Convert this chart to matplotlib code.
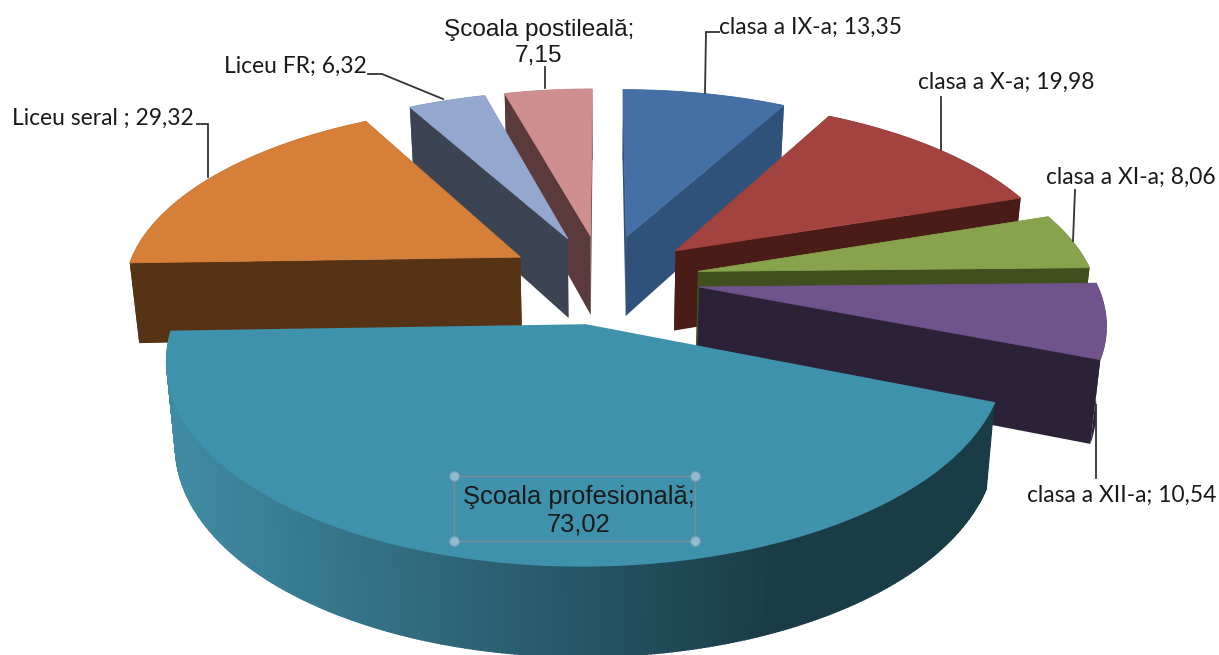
import numpy as np
import matplotlib
matplotlib.use('Agg')
import matplotlib.pyplot as plt
from matplotlib.colors import to_rgb

# data
categories = ['clasa a IX-a', 'clasa a X-a', 'clasa a XI-a', 'clasa a XII-a',
              'Şcoala profesională', 'Liceu seral ', 'Liceu FR', 'Şcoala postileală']
values = [13.35, 19.98, 8.06, 10.54, 73.02, 29.32, 6.32, 7.15]
value_labels = ['13,35', '19,98', '8,06', '10,54', '73,02', '29,32', '6,32', '7,15']

top_colors = ['#4570A5', '#A34340', '#87A34C', '#70538A', '#3F92AC', '#D57F39', '#94A8CF', '#CE8F8E']
side_colors = ['#30527A', '#4A1C18', '#3F4F1E', '#2C2238', '#1A3C47', '#573316', '#3C4454', '#5A3A3A']

# pie geometry, in pixels of the picture
CX, CY = 603, 279
RADIUS = 396
EXPLODE = 0.245
FLAT = 184
PERSP = 0.1635
DEPTH = 81


# project a point of the pie plane to the picture
def project(u, v, low=False):
    s = 1 / (1 - PERSP * v)
    x = u * RADIUS * s
    y = v * FLAT * s
    if low:
        x = x * 0.98
        y = y + DEPTH * (1 + 0.1 * v)
    return CX + x, CY + y


def slicePoints(a0, a1, low=False):
    mid = (a0 + a1) / 2
    du, dv = EXPLODE * np.sin(mid), -EXPLODE * np.cos(mid)
    t = np.linspace(a0, a1, max(int(np.degrees(a1 - a0)) * 2, 4))
    xs, ys = project(du + np.sin(t), dv - np.cos(t), low)
    ax_, ay_ = project(du, dv, low)
    return ax_, ay_, xs, ys


def drawSlice(ax, a0, a1, top, side, gradient=False):
    px, py, xs, ys = slicePoints(a0, a1)
    qx, qy, xl, yl = slicePoints(a0, a1, True)
    if not gradient:
        # one flat side colour: radial faces and outer wall in one go
        for i in (0, -1):
            ax.fill([px, xs[i], xl[i], qx], [py, ys[i], yl[i], qy], color=side, lw=0)
        ax.fill(np.r_[xs, xl[::-1]], np.r_[ys, yl[::-1]], color=side, lw=0)
        ax.fill(np.r_[px, xs], np.r_[py, ys], color=top, lw=0.6)
        return
    # outer wall in strips so that it can be shaded
    left = np.array(to_rgb('#3F8BA3'))
    right = np.array(to_rgb(side))
    for i in range(len(xs) - 1):
        f = np.clip((xs[i] - 175) / 600, 0, 1)
        ax.fill([xs[i], xs[i + 1], xl[i + 1], xl[i]], [ys[i], ys[i + 1], yl[i + 1], yl[i]],
                color=tuple(left + (right - left) * f), lw=1.2)
    ax.fill(np.r_[px, xs], np.r_[py, ys], color=top, lw=1.5)


def leader(ax, xs, ys):
    ax.plot(xs, ys, color='#333333', lw=1.3, solid_joinstyle='miter', zorder=5)


fig = plt.figure(figsize=(12.19, 6.55), dpi=100)
ax = fig.add_axes([0, 0, 1, 1])
ax.set_xlim(0, 1219)
ax.set_ylim(655, 0)
ax.axis('off')

edges = np.radians(np.r_[0, np.cumsum(values)] / np.sum(values) * 360)
# back slices first, the big front one last
for i in [7, 6, 5, 0, 1, 2, 3, 4]:
    drawSlice(ax, edges[i], edges[i + 1], top_colors[i], side_colors[i], gradient=(i == 4))

leader(ax, [719, 706, 705], [32, 32, 93])
leader(ax, [941, 941], [97, 150])
leader(ax, [1075, 1073], [190, 241])
leader(ax, [1096, 1096], [405, 478])
leader(ax, [197, 208, 208], [124, 124, 177])
leader(ax, [368, 382, 443], [74, 74, 99])
leader(ax, [545, 545], [67, 88])

small = dict(family='Lato', fontsize=16.4, color='#1a1a1a', va='center', zorder=6)
big = dict(family='Liberation Sans', ha='center', va='center', color='#1a1a1a',
           linespacing=1.2, zorder=6)


def label(i):
    return f'{categories[i]}; {value_labels[i]}'


ax.text(719, 27, label(0), ha='left', **small)
ax.text(918, 82, label(1), ha='left', **small)
ax.text(1046, 177, label(2), ha='left', **small)
ax.text(1027, 495, label(3), ha='left', **small)
ax.text(12, 118, label(5), ha='left', **small)
ax.text(224, 66, label(6), ha='left', **small)
ax.text(539, 43, f'{categories[7]};\n{value_labels[7]}', fontsize=17.6, **big)
ax.text(579, 511, f'{categories[4]};\n{value_labels[4]}', fontsize=18.4, **big)

# selection box around the label
ax.plot([454, 695, 695, 454, 454], [476, 476, 541, 541, 476], color='#7A8C94', lw=1, zorder=5)
ax.plot([454, 695, 454, 695], [476, 476, 541, 541], ls='none', marker='o', ms=7,
        mfc='#8FBCD0', mec='#7A9AAE', mew=0.8, zorder=6)

fig.savefig('out.png', dpi=100)
